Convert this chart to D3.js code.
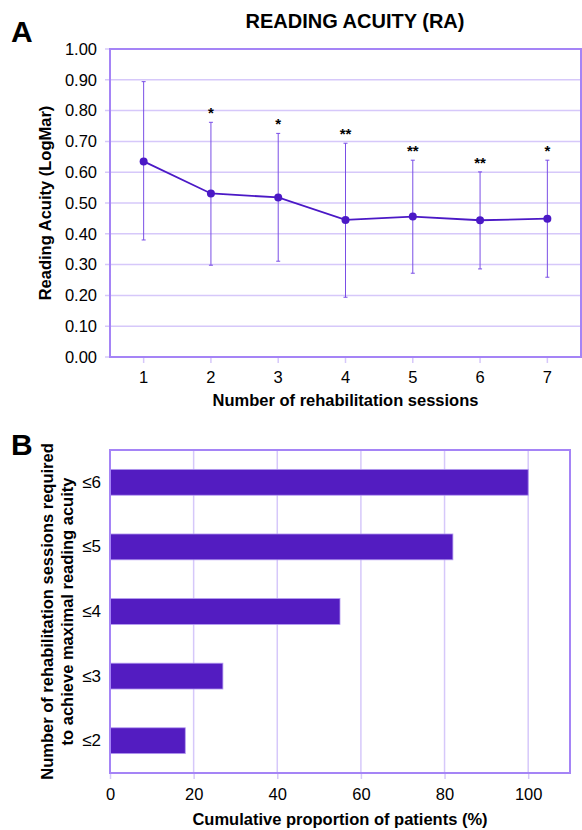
<!DOCTYPE html>
<html>
<head>
<meta charset="utf-8">
<script src="https://cdn.jsdelivr.net/npm/d3@7"></script>
<style>
  body { margin: 0; background: #fff; }
  svg text { font-family: "Liberation Sans", Arial, sans-serif; fill: #000; }
</style>
</head>
<body>
<div id="vis-container"></div>
<script>
// panel A data
const sessions = ["1", "2", "3", "4", "5", "6", "7"];
const raMean = [0.635, 0.531, 0.518, 0.445, 0.456, 0.444, 0.449];
const raUpper = [0.894, 0.762, 0.726, 0.694, 0.639, 0.601, 0.639];
const raLower = [0.380, 0.298, 0.311, 0.194, 0.272, 0.286, 0.259];
const raSig = ["", "*", "*", "**", "**", "**", "*"];
const raTicks = [0, 0.1, 0.2, 0.3, 0.4, 0.5, 0.6, 0.7, 0.8, 0.9, 1.0];

// panel B data
const sessCats = ["\u22646", "\u22645", "\u22644", "\u22643", "\u22642"];
const cumPct = [100, 82, 55, 27, 18];
const pctTicks = [0, 20, 40, 60, 80, 100];

const w = 582, h = 830;
const borderCol = "#a584f6";
const gridCol = "#d6c8fa";
const markCol = "#4b19c6";
const errCol = "#7a4ee6";
const barCol = "#531cc1";
const tickFont = "16.5px";
const titleFont = "16.5px";

const svg = d3.select("#vis-container").append("svg")
    .attr("width", w)
    .attr("height", h);

// ---------- panel A ----------
const a = { left: 110, right: 581, top: 49, bottom: 357 };

const xA = d3.scaleBand().domain(sessions).range([a.left, a.right]);
const yA = d3.scaleLinear().domain([0, 1]).range([a.bottom, a.top]);

svg.append("text")
    .attr("x", 11).attr("y", 42)
    .style("font-size", "30px").style("font-weight", "bold")
    .text("A");

svg.append("text")
    .attr("x", 355).attr("y", 28)
    .attr("text-anchor", "middle")
    .style("font-size", "20px").style("font-weight", "bold")
    .text("READING ACUITY (RA)");

// gridlines
svg.append("g").selectAll("line")
    .data(raTicks)
    .enter().append("line")
    .attr("x1", a.left - 5).attr("x2", a.right)
    .attr("y1", d => yA(d)).attr("y2", d => yA(d))
    .attr("stroke", gridCol).attr("stroke-width", 1.5);

// y axis labels
const yAxisA = d3.axisLeft(yA).tickValues(raTicks).tickFormat(d3.format(".2f")).tickSize(0).tickPadding(13);
const gyA = svg.append("g").attr("transform", "translate(" + a.left + ",0)").call(yAxisA);
gyA.select(".domain").remove();
gyA.selectAll("text").style("font-size", tickFont).attr("font-family", null);

// x axis
const xAxisA = d3.axisBottom(xA).tickSize(6).tickPadding(8);
const gxA = svg.append("g").attr("transform", "translate(0," + a.bottom + ")").call(xAxisA);
gxA.select(".domain").remove();
gxA.selectAll("line").attr("stroke", gridCol).attr("stroke-width", 1.5);
gxA.selectAll("text").style("font-size", tickFont).attr("font-family", null);

// plot frame
svg.append("rect")
    .attr("x", a.left).attr("y", a.top)
    .attr("width", a.right - a.left).attr("height", a.bottom - a.top)
    .attr("fill", "none").attr("stroke", borderCol).attr("stroke-width", 2);

const cx = d => xA(d) + xA.bandwidth() / 2;

// error bars
const err = svg.append("g");
sessions.forEach((s, i) => {
    err.append("line")
        .attr("x1", cx(s)).attr("x2", cx(s))
        .attr("y1", yA(raLower[i])).attr("y2", yA(raUpper[i]))
        .attr("stroke", errCol).attr("stroke-width", 1);
    [raLower[i], raUpper[i]].forEach(v => {
        err.append("line")
            .attr("x1", cx(s) - 2).attr("x2", cx(s) + 2)
            .attr("y1", yA(v)).attr("y2", yA(v))
            .attr("stroke", errCol).attr("stroke-width", 1);
    });
    if (raSig[i]) {
        err.append("text")
            .attr("x", cx(s)).attr("y", yA(raUpper[i]) - 4)
            .attr("text-anchor", "middle")
            .style("font-size", "15px").style("font-weight", "bold")
            .text(raSig[i]);
    }
});

// mean line + markers
const line = d3.line()
    .x((d, i) => cx(sessions[i]))
    .y(d => yA(d));

svg.append("path")
    .datum(raMean)
    .attr("d", line)
    .attr("fill", "none")
    .attr("stroke", markCol).attr("stroke-width", 1.8);

svg.selectAll(".dot")
    .data(raMean)
    .enter().append("circle")
    .attr("class", "dot")
    .attr("r", 4)
    .attr("cx", (d, i) => cx(sessions[i]))
    .attr("cy", d => yA(d))
    .attr("fill", markCol);

// axis titles
svg.append("text")
    .attr("transform", "translate(51," + ((a.top + a.bottom) / 2) + ") rotate(-90)")
    .attr("text-anchor", "middle")
    .style("font-size", titleFont).style("font-weight", "bold")
    .text("Reading Acuity (LogMar)");

svg.append("text")
    .attr("x", (a.left + a.right) / 2).attr("y", 406)
    .attr("text-anchor", "middle")
    .style("font-size", titleFont).style("font-weight", "bold")
    .text("Number of rehabilitation sessions");

// ---------- panel B ----------
const b = { left: 110, right: 570, top: 450, bottom: 773 };

const xB = d3.scaleLinear().domain([0, 110]).range([b.left, b.right]);
const yB = d3.scaleBand().domain(sessCats).range([b.top, b.bottom]).paddingInner(0.6).paddingOuter(0.3);

svg.append("text")
    .attr("x", 11).attr("y", 455)
    .style("font-size", "30px").style("font-weight", "bold")
    .text("B");

// vertical gridlines
svg.append("g").selectAll("line")
    .data(pctTicks.slice(1))
    .enter().append("line")
    .attr("x1", d => xB(d)).attr("x2", d => xB(d))
    .attr("y1", b.top).attr("y2", b.bottom)
    .attr("stroke", gridCol).attr("stroke-width", 1.5);

// x axis
const xAxisB = d3.axisBottom(xB).tickValues(pctTicks).tickSize(6).tickPadding(9);
const gxB = svg.append("g").attr("transform", "translate(0," + b.bottom + ")").call(xAxisB);
gxB.select(".domain").remove();
gxB.selectAll("line").attr("stroke", gridCol).attr("stroke-width", 1.5);
gxB.selectAll("text").style("font-size", tickFont).attr("font-family", null);

// y axis
const yAxisB = d3.axisLeft(yB).tickSize(0).tickPadding(9);
const gyB = svg.append("g").attr("transform", "translate(" + b.left + ",0)").call(yAxisB);
gyB.select(".domain").remove();
gyB.selectAll("text").style("font-size", "17px").attr("font-family", null);

// bars
svg.selectAll(".bar")
    .data(cumPct)
    .enter().append("rect")
    .attr("class", "bar")
    .attr("x", xB(0))
    .attr("y", (d, i) => yB(sessCats[i]))
    .attr("width", d => xB(d) - xB(0))
    .attr("height", yB.bandwidth())
    .attr("fill", barCol)
    .attr("stroke", "#b49af0").attr("stroke-width", 0.8);

// plot frame
svg.append("rect")
    .attr("x", b.left).attr("y", b.top)
    .attr("width", b.right - b.left).attr("height", b.bottom - b.top)
    .attr("fill", "none").attr("stroke", borderCol).attr("stroke-width", 2);

// axis titles
const yTitleB = svg.append("text")
    .attr("transform", "translate(0," + ((b.top + b.bottom) / 2) + ") rotate(-90)")
    .attr("text-anchor", "middle")
    .style("font-size", titleFont).style("font-weight", "bold");
yTitleB.append("tspan").attr("x", 0).attr("y", 53).text("Number of rehabilitation sessions required");
yTitleB.append("tspan").attr("x", 0).attr("y", 73).text("to achieve maximal reading acuity");

svg.append("text")
    .attr("x", (b.left + b.right) / 2).attr("y", 825)
    .attr("text-anchor", "middle")
    .style("font-size", titleFont).style("font-weight", "bold")
    .text("Cumulative proportion of patients (%)");
</script>
</body>
</html>
